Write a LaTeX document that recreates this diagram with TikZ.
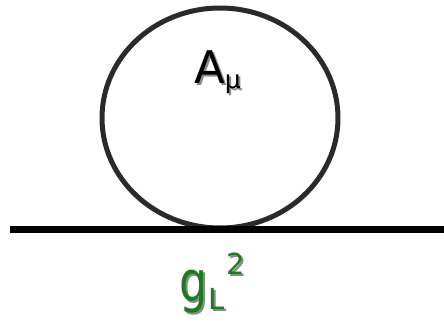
\documentclass[tikz,border=0pt]{standalone}
\usepackage{fontspec}
\setmainfont{DejaVu Sans}
\usetikzlibrary{positioning,shapes.geometric}
\definecolor{loopgray}{HTML}{2A2A2A}
\definecolor{couplegreen}{HTML}{1E7A1E}
\definecolor{shadowgray}{HTML}{8A8A8A}
\tikzset{
  loopbox/.style={draw=loopgray, ellipse, line width=5pt, inner sep=0pt},
  propline/.style={draw=black, line width=7pt},
  fieldtext/.style={inner sep=0pt, anchor=base west, text=black},
  coupletext/.style={inner sep=0pt, anchor=base west, text=couplegreen}
}
% text with a grey drop shadow
\newcommand{\withshadow}[1]{\rlap{\kern2pt\raisebox{-2pt}{\color{shadowgray}#1}}#1}
\newcommand{\fieldlabel}{{\fontsize{45}{45}\selectfont A}\raisebox{-5pt}{\fontsize{25}{25}\selectfont μ}}
\newcommand{\couplelabel}{{\fontsize{52}{52}\selectfont\scalebox{0.85}[1.08]{g}}\kern1pt\raisebox{-8pt}{\fontsize{29}{29}\selectfont L}\kern2pt\raisebox{27pt}{\fontsize{29}{29}\selectfont 2}}
\begin{document}
\begin{tikzpicture}[x=1pt,y=-1pt]
  \useasboundingbox (0,0) rectangle (444,321);
  \node[loopbox, minimum width=236, minimum height=220] (loop) at (220,118) {};
  \coordinate (lineleft) at (10,229);
  \coordinate (lineright) at (444,229);
  \draw[propline] (lineleft) -- (lineright);
  % field on the loop
  \node[fieldtext] (field) at (194,83) {\withshadow{\fieldlabel}};
  % coupling below the line
  \node[coupletext] (couple) at (179,301) {\withshadow{\couplelabel}};
\end{tikzpicture}
\end{document}
